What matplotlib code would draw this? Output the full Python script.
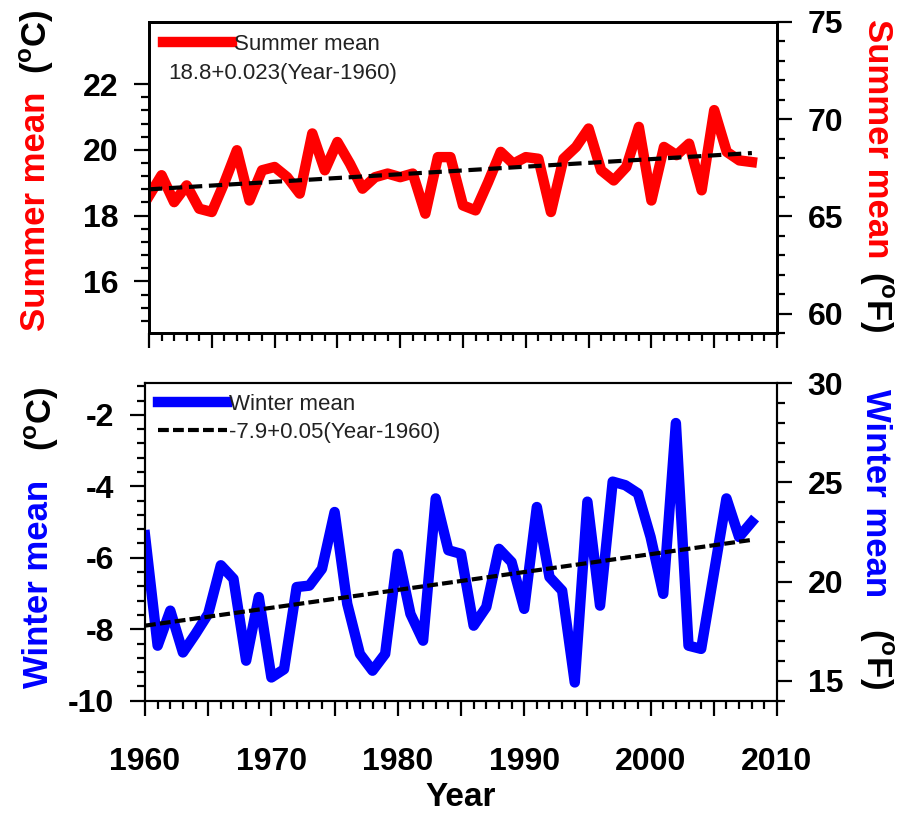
import numpy as np
import matplotlib
matplotlib.use("Agg")
import matplotlib.pyplot as plt
from matplotlib.ticker import MultipleLocator, FixedLocator, FuncFormatter
from matplotlib.lines import Line2D

plt.rcParams["font.family"] = ["Liberation Sans", "DejaVu Sans"]
plt.rcParams["mathtext.fontset"] = "custom"
plt.rcParams["mathtext.rm"] = "Liberation Sans:bold"
plt.rcParams["mathtext.bf"] = "Liberation Sans:bold"
plt.rcParams["axes.unicode_minus"] = False

# data
years = np.arange(1960, 2009)
summer_c = [18.6, 19.23, 18.41, 18.92, 18.21, 18.11, 19.0, 19.99, 18.46, 19.38,
            19.48, 19.17, 18.67, 20.50, 19.38, 20.24, 19.58, 18.82, 19.17, 19.28,
            19.17, 19.28, 18.06, 19.78, 19.78, 18.31, 18.16, 19.02, 19.94, 19.58,
            19.78, 19.73, 18.11, 19.73, 20.09, 20.65, 19.38, 19.07, 19.48, 20.70,
            18.46, 20.09, 19.84, 20.19, 18.77, 21.21, 19.94, 19.68, 19.63]
winter_c = [-5.37, -8.46, -7.48, -8.65, -8.13, -7.57, -6.21, -6.59, -8.88, -7.10,
            -9.35, -9.12, -6.82, -6.78, -6.31, -4.72, -7.29, -8.69, -9.16, -8.69,
            -5.89, -7.57, -8.32, -4.34, -5.79, -5.89, -7.90, -7.38, -5.75, -6.12,
            -7.43, -4.58, -6.54, -6.92, -9.49, -4.43, -7.34, -3.87, -3.97, -4.20,
            -5.42, -7.01, -2.23, -8.46, -8.55, -6.45, -4.34, -5.42, -5.00]
# trend coefficients (intercept, slope) as printed on the chart
summer_fit = (18.8, 0.023)
winter_fit = (-7.9, 0.05)

RED = "#ff0000"
BLUE = "#0000ff"
LABFONT = dict(fontsize=25, fontweight="bold")


def style_axes(ax, tw, spw, ylim, yticks, yminor, tylim, tyticks, tyminor, xlabels):
    ax.set_xlim(1960, 2010)
    ax.set_ylim(*ylim)
    tw.set_ylim(*tylim)
    ax.xaxis.set_major_locator(MultipleLocator(5))
    ax.xaxis.set_minor_locator(MultipleLocator(1))
    ax.xaxis.set_major_formatter(FuncFormatter(
        lambda v, p: "%d" % v if (xlabels and int(round(v)) % 10 == 0) else ""))
    ax.yaxis.set_major_locator(FixedLocator(yticks))
    ax.yaxis.set_minor_locator(FixedLocator(yminor))
    tw.yaxis.set_major_locator(FixedLocator(tyticks))
    tw.yaxis.set_minor_locator(FixedLocator(tyminor))
    for a in (ax, tw):
        a.tick_params(which="major", direction="out", length=11, width=1.6,
                      pad=11, labelsize=23)
        a.tick_params(which="minor", direction="out", length=6, width=1.6)
        for s in a.spines.values():
            s.set_linewidth(spw)
    ax.tick_params(axis="y", right=False)
    ax.tick_params(axis="x", top=False, pad=22)
    tw.tick_params(axis="x", top=False, bottom=False, labelbottom=False)
    for lab in ax.get_xticklabels() + ax.get_yticklabels() + tw.get_yticklabels():
        lab.set_fontweight("bold")


fig = plt.figure(figsize=(9.06, 8.16), dpi=100)

# ---- summer panel ----
ax1 = fig.add_axes([149 / 906, 1 - 333.3 / 816, 628 / 906, 311.6 / 816])
tw1 = ax1.twinx()
ax1.plot(years, summer_c, color=RED, lw=7.5, solid_joinstyle="round", zorder=3)
ax1.plot(years, summer_fit[0] + summer_fit[1] * (years - 1960), color="black",
         lw=3, ls=(0, (3.2, 1.6)), zorder=4)
style_axes(ax1, tw1, 2.0, (14.42, 23.9), [16, 18, 20, 22],
           np.arange(14.8, 22.01, 0.4), (59, 75), [60, 65, 70, 75],
           np.arange(59, 75.01, 1), False)
leg1 = ax1.legend([Line2D([], [], color=RED, lw=7.5)], ["Summer mean"],
                  loc="upper left", bbox_to_anchor=(0.022, 0.96), frameon=False,
                  borderpad=0, borderaxespad=0, handlelength=3.1,
                  handletextpad=0.1, fontsize=16)
for t in leg1.get_texts():
    t.set_color("#222222")
ax1.text(0.030, 0.833, "%.1f+%.3f(Year-1960)" % summer_fit, transform=ax1.transAxes,
         fontsize=16, color="#222222", va="center", ha="left")

# ---- winter panel ----
ax2 = fig.add_axes([145 / 906, 1 - 700.7 / 816, 632 / 906, 317.7 / 816])
tw2 = ax2.twinx()
ax2.plot(years, winter_c, color=BLUE, lw=7.5, solid_joinstyle="round", zorder=3)
ax2.plot(years, winter_fit[0] + winter_fit[1] * (years - 1960), color="black",
         lw=3, ls=(0, (2.6, 1.0)), zorder=4)
style_axes(ax2, tw2, 1.5, (-10, -1.11), [-10, -8, -6, -4, -2],
           np.arange(-10, -1.19, 0.4), (14, 30), [15, 20, 25, 30],
           np.arange(14, 30.01, 1), True)
leg2 = ax2.legend([Line2D([], [], color=BLUE, lw=7.5),
                   Line2D([], [], color="black", lw=3, ls=(0, (2.6, 1.0)))],
                  ["Winter mean", "%.1f+%.2f(Year-1960)" % winter_fit],
                  loc="upper left", bbox_to_anchor=(0.02, 0.965), frameon=False,
                  borderpad=0, borderaxespad=0, handlelength=3.1,
                  handletextpad=0.1, labelspacing=0.3, fontsize=16)
for t in leg2.get_texts():
    t.set_color("#222222")
ax2.set_xlabel("Year", fontsize=24, fontweight="bold", labelpad=4)

# ---- axis titles (two colours each) ----
deg_c = r"(${}^{\mathbf{o}}$C)"
deg_f = r"(${}^{\mathbf{o}}$F)"
fig.text(36 / 906, 1 - 211 / 816, "Summer mean", color=RED, rotation=90,
         ha="center", va="center", **LABFONT)
fig.text(37 / 906, 1 - 42 / 816, deg_c, color="black", rotation=90,
         ha="center", va="center", **LABFONT)
fig.text(878 / 906, 1 - 138.5 / 816, "Summer mean", color=RED, rotation=270,
         ha="center", va="center", **LABFONT)
fig.text(876 / 906, 1 - 301.5 / 816, deg_f, color="black", rotation=270,
         ha="center", va="center", **LABFONT)
fig.text(39 / 906, 1 - 583.5 / 816, "Winter mean", color=BLUE, rotation=90,
         ha="center", va="center", **LABFONT)
fig.text(42 / 906, 1 - 418.5 / 816, deg_c, color="black", rotation=90,
         ha="center", va="center", **LABFONT)
fig.text(876 / 906, 1 - 493.5 / 816, "Winter mean", color=BLUE, rotation=270,
         ha="center", va="center", **LABFONT)
fig.text(876 / 906, 1 - 658 / 816, deg_f, color="black", rotation=270,
         ha="center", va="center", **LABFONT)

fig.savefig("out.png", dpi=100)
